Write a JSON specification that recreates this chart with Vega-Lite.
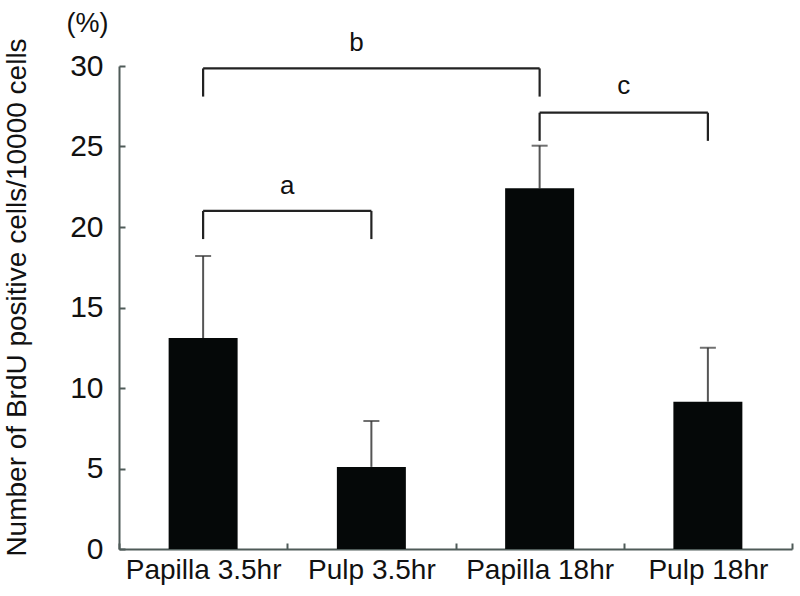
{
  "$schema": "https://vega.github.io/schema/vega-lite/v6.json",
  "width": 673,
  "height": 483,
  "autosize": "none",
  "padding": {"left": 119, "top": 66, "right": 8, "bottom": 47},
  "background": "white",
  "config": {"view": {"stroke": null}, "font": "Liberation Sans"},
  "title": {"text": "Number of BrdU positive cells/10000 cells", "orient": "left", "anchor": "middle", "frame": "group", "offset": 34, "dx": 10, "fontSize": 28, "fontWeight": "normal", "color": "#111"},
  "datasets": {
    "bars": [
      {"group": "Papilla 3.5hr", "mean": 13.1, "upper": 18.2},
      {"group": "Pulp 3.5hr", "mean": 5.1, "upper": 7.95},
      {"group": "Papilla 18hr", "mean": 22.4, "upper": 25.05},
      {"group": "Pulp 18hr", "mean": 9.15, "upper": 12.5}
    ],
    "hbrackets": [
      {"name": "a", "group": "Papilla 3.5hr", "group2": "Pulp 3.5hr", "y": 21.0},
      {"name": "b", "group": "Papilla 3.5hr", "group2": "Papilla 18hr", "y": 29.85},
      {"name": "c", "group": "Papilla 18hr", "group2": "Pulp 18hr", "y": 27.1}
    ],
    "vbrackets": [
      {"name": "a", "group": "Papilla 3.5hr", "top": 21.0, "bottom": 19.25},
      {"name": "a", "group": "Pulp 3.5hr", "top": 21.0, "bottom": 19.25},
      {"name": "b", "group": "Papilla 3.5hr", "top": 29.85, "bottom": 28.1},
      {"name": "b", "group": "Papilla 18hr", "top": 29.85, "bottom": 28.1},
      {"name": "c", "group": "Papilla 18hr", "top": 27.1, "bottom": 25.35},
      {"name": "c", "group": "Pulp 18hr", "top": 27.1, "bottom": 25.35}
    ],
    "letters_edge": [
      {"name": "a", "group": "Papilla 3.5hr", "y": 22.55},
      {"name": "c", "group": "Papilla 18hr", "y": 28.75}
    ],
    "letters_mid": [
      {"name": "b", "group": "Pulp 3.5hr", "y": 31.4}
    ]
  },
  "layer": [
    {
      "data": {"name": "bars"},
      "mark": {"type": "rule", "color": "#555", "strokeWidth": 2},
      "encoding": {
        "x": {"field": "group", "type": "nominal", "sort": null,
          "scale": {"domain": ["Papilla 3.5hr", "Pulp 3.5hr", "Papilla 18hr", "Pulp 18hr"], "paddingInner": 0, "paddingOuter": 0},
          "axis": {"title": null, "labelAngle": 0, "labelFontSize": 28, "labelColor": "#111", "labelPadding": 13,
            "domainColor": "#4f5b58", "domainWidth": 2, "tickColor": "#4f5b58", "tickWidth": 2, "tickSize": -6, "tickBand": "extent"}},
        "y": {"field": "mean", "type": "quantitative",
          "scale": {"domain": [0, 30], "nice": false, "zero": true},
          "axis": {"title": "(%)", "titleFontSize": 27, "titleFontWeight": "normal", "titleColor": "#111",
            "titleX": -32, "titleY": -43, "titleAngle": 0, "titleBaseline": "middle", "titleAlign": "center",
            "values": [0, 5, 10, 15, 20, 25, 30], "grid": false, "labelFontSize": 30, "labelColor": "#111", "labelPadding": 22,
            "domainColor": "#4f5b58", "domainWidth": 2, "tickColor": "#4f5b58", "tickWidth": 2, "tickSize": -6}},
        "y2": {"field": "upper"}
      }
    },
    {
      "data": {"name": "bars"},
      "mark": {"type": "tick", "color": "#333", "thickness": 2, "size": 16},
      "encoding": {
        "x": {"field": "group", "type": "nominal", "sort": null},
        "y": {"field": "upper", "type": "quantitative"}
      }
    },
    {
      "data": {"name": "bars"},
      "mark": {"type": "bar", "color": "#050808", "width": {"band": 0.41}},
      "encoding": {
        "x": {"field": "group", "type": "nominal", "sort": null},
        "y": {"field": "mean", "type": "quantitative"}
      }
    },
    {
      "data": {"name": "hbrackets"},
      "mark": {"type": "rule", "color": "#222", "strokeWidth": 2.2},
      "encoding": {
        "x": {"field": "group", "type": "nominal", "sort": null},
        "x2": {"field": "group2"},
        "y": {"field": "y", "type": "quantitative"}
      }
    },
    {
      "data": {"name": "vbrackets"},
      "mark": {"type": "rule", "color": "#222", "strokeWidth": 2.2},
      "encoding": {
        "x": {"field": "group", "type": "nominal", "sort": null},
        "y": {"field": "top", "type": "quantitative"},
        "y2": {"field": "bottom"}
      }
    },
    {
      "data": {"name": "letters_edge"},
      "mark": {"type": "text", "fontSize": 26, "color": "#111", "baseline": "middle", "align": "center", "dx": 0},
      "encoding": {
        "x": {"field": "group", "type": "nominal", "sort": null, "bandPosition": 1},
        "y": {"field": "y", "type": "quantitative"},
        "text": {"field": "name"}
      }
    },
    {
      "data": {"name": "letters_mid"},
      "mark": {"type": "text", "fontSize": 26, "color": "#111", "baseline": "middle", "align": "center", "dx": -15},
      "encoding": {
        "x": {"field": "group", "type": "nominal", "sort": null},
        "y": {"field": "y", "type": "quantitative"},
        "text": {"field": "name"}
      }
    }
  ]
}
